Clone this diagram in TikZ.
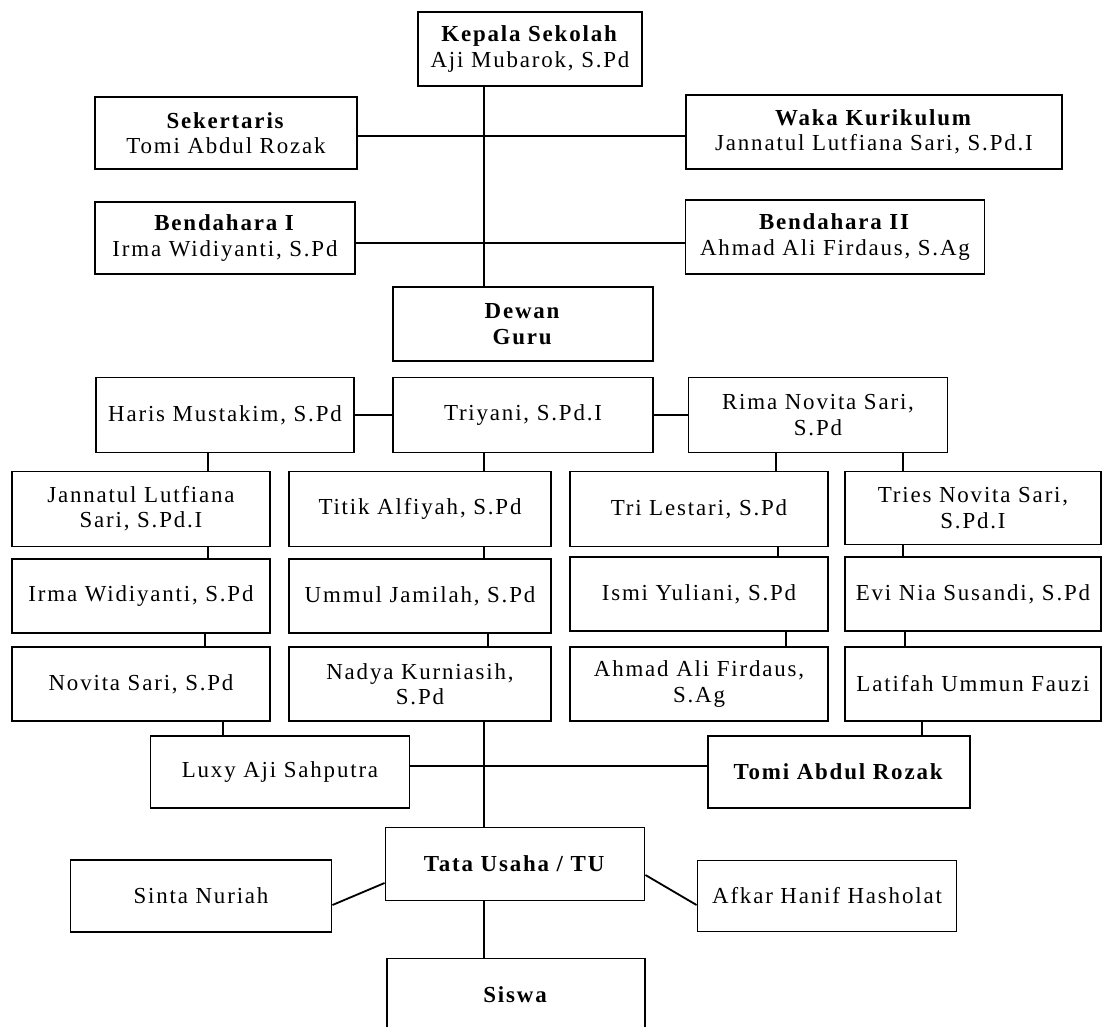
\documentclass[tikz,border=0pt]{standalone}
\usepackage{fontspec}
\setmainfont{Liberation Serif}[LetterSpace=8]
\tikzset{
    box/.style={draw, line width=1.3pt, align=center, inner sep=0pt,
        minimum width=6.45cm, minimum height=1.85cm,
        font=\fontsize{16.3}{18}\selectfont},
    link/.style={line width=1.3pt}
}
\begin{document}
\begin{tikzpicture}[x=0.025cm, y=-0.025cm]
        \clip (0,0) rectangle (1104,1026);
        \coordinate (trunk) at (484,0);

        % Pimpinan
        \node [box, minimum width=5.6cm] (kepala) at (530,49) {\textbf{Kepala Sekolah}\\Aji Mubarok, S.Pd};
        \node [box, minimum width=6.55cm, minimum height=1.8cm] (sekretaris) at (226,133) {\textbf{Sekertaris}\\Tomi Abdul Rozak};
        \node [box, minimum width=9.4cm] (waka) at (874,132) {\textbf{Waka Kurikulum}\\Jannatul Lutfiana Sari, S.Pd.I};
        \node [box, minimum width=6.5cm, minimum height=1.8cm] (bendsatu) at (225,238) {\textbf{Bendahara I}\\Irma Widiyanti, S.Pd};
        \node [box, minimum width=7.475cm] (benddua) at (835,237) {\textbf{Bendahara II}\\Ahmad Ali Firdaus, S.Ag};
        \node [box, minimum width=6.5cm] (dewan) at (523,324) {\textbf{Dewan}\\\textbf{Guru}};

        % Dewan guru
        \node [box, minimum height=1.875cm] (haris) at (225,415) {Haris Mustakim, S.Pd};
        \node [box, minimum width=6.5cm, minimum height=1.875cm] (triyani) at (523,415) {Triyani, S.Pd.I};
        \node [box, minimum width=6.475cm, minimum height=1.875cm] (rima) at (818,415) {Rima Novita Sari,\\S.Pd};

        \node [box, minimum height=1.875cm] (jannatul) at (141,509) {Jannatul Lutfiana\\Sari, S.Pd.I};
        \node [box, minimum width=6.55cm, minimum height=1.875cm] (titik) at (420,509) {Titik Alfiyah, S.Pd};
        \node [box, minimum height=1.875cm] (lestari) at (699,509) {Tri Lestari, S.Pd};
        \node [box, minimum width=6.4cm, minimum height=1.825cm] (tries) at (973,508) {Tries Novita Sari,\\S.Pd.I};

        \node [box] (irma) at (141,596) {Irma Widiyanti, S.Pd};
        \node [box, minimum width=6.55cm] (ummul) at (420,596) {Ummul Jamilah, S.Pd};
        \node [box] (ismi) at (699,594) {Ismi Yuliani, S.Pd};
        \node [box, minimum width=6.4cm] (evi) at (973,594) {Evi Nia Susandi, S.Pd};

        \node [box] (novita) at (141,684) {Novita Sari, S.Pd};
        \node [box, minimum width=6.55cm] (nadya) at (420,684) {Nadya Kurniasih,\\S.Pd};
        \node [box] (ahmad) at (699,684) {Ahmad Ali Firdaus,\\S.Ag};
        \node [box, minimum width=6.4cm] (latifah) at (973,684) {Latifah Ummun Fauzi};

        \node [box, minimum width=6.475cm, minimum height=1.8cm] (luxy) at (280,772) {Luxy Aji Sahputra};
        \node [box, minimum width=6.55cm, minimum height=1.8cm] (tomi) at (839,772) {\textbf{Tomi Abdul Rozak}};

        % Tata usaha dan siswa
        \node [box, minimum width=6.475cm, minimum height=1.825cm] (tu) at (515,864) {\textbf{Tata Usaha / TU}};
        \node [box, minimum width=6.525cm, minimum height=1.8cm] (sinta) at (201,896) {Sinta Nuriah};
        \node [box, minimum width=6.475cm, minimum height=1.775cm] (afkar) at (827,896) {Afkar Hanif Hasholat};
        \node [box, minimum height=1.825cm] (siswa) at (516,995) {\textbf{Siswa}};

        % Garis penghubung
        \draw [link] (kepala.south -| trunk) -- (dewan.north -| trunk);
        \draw [link] (sekretaris.east |- 0,136) -- (waka.west |- 0,136);
        \draw [link] (bendsatu.east |- 0,243) -- (benddua.west |- 0,243);
        \draw [link] (haris) -- (triyani);
        \draw [link] (triyani) -- (rima);

        \draw [link] (haris.south -| 208,0) -- (jannatul.north -| 208,0);
        \draw [link] (triyani.south -| trunk) -- (titik.north -| trunk);
        \draw [link] (rima.south -| 776,0) -- (lestari.north -| 776,0);
        \draw [link] (rima.south -| 903,0) -- (tries.north -| 903,0);

        \draw [link] (jannatul.south -| 208,0) -- (irma.north -| 208,0);
        \draw [link] (titik.south -| trunk) -- (ummul.north -| trunk);
        \draw [link] (lestari.south -| 778,0) -- (ismi.north -| 778,0);
        \draw [link] (tries.south -| 903,0) -- (evi.north -| 903,0);

        \draw [link] (irma.south -| 205,0) -- (novita.north -| 205,0);
        \draw [link] (ummul.south -| 488,0) -- (nadya.north -| 488,0);
        \draw [link] (ismi.south -| 786,0) -- (ahmad.north -| 786,0);
        \draw [link] (evi.south -| 905,0) -- (latifah.north -| 905,0);

        \draw [link] (novita.south -| 223,0) -- (luxy.north -| 223,0);
        \draw [link] (latifah.south -| 922,0) -- (tomi.north -| 922,0);
        \draw [link] (luxy.east |- 0,766) -- (tomi.west |- 0,766);

        \draw [link] (nadya.south -| trunk) -- (tu.north -| trunk);
        \draw [link] (tu.south -| trunk) -- (siswa.north -| trunk);
        \draw [link] (tu.west |- 0,883) -- (sinta.east |- 0,905);
        \draw [link] (tu.east |- 0,875) -- (afkar.west |- 0,905);
    \end{tikzpicture}
\end{document}
